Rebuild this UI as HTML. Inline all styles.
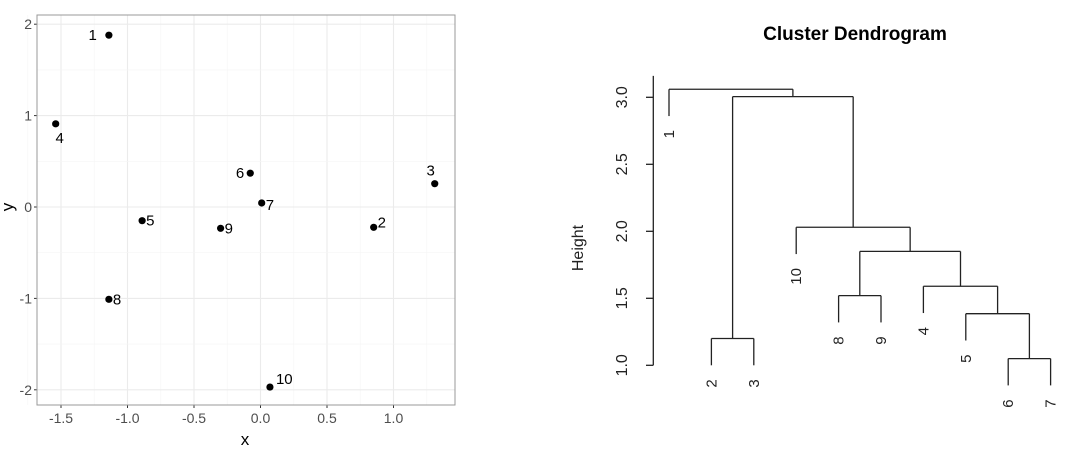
<!DOCTYPE html>
<html><head><meta charset="utf-8"><style>
body{margin:0;background:#fff;}
svg{display:block;font-family:"Liberation Sans",sans-serif;}
</style></head><body>
<svg id="s" width="1092" height="452" viewBox="0 0 1092 452">
<g id="left"></g>
<g id="right"></g>
</svg>
<script>
// scatter data
const ids = ["1","2","3","4","5","6","7","8","9","10"];
const xs = [-1.14, 0.851, 1.31, -1.54, -0.89, -0.077, 0.009, -1.14, -0.30, 0.071];
const ys = [1.88, -0.222, 0.255, 0.91, -0.15, 0.37, 0.044, -1.01, -0.233, -1.97];
const xTicks = [-1.5, -1.0, -0.5, 0.0, 0.5, 1.0];
const xTickLabels = ["-1.5","-1.0","-0.5","0.0","0.5","1.0"];
const yTicks = [-2, -1, 0, 1, 2];
const yTickLabels = ["-2","-1","0","1","2"];
// dendrogram data
const leafOrder = ["1","2","3","10","8","9","4","5","6","7"];
const mergeLeft = ["2","8","6","5","4","m2","10","m1","1"];
const mergeRight = ["3","9","7","m3","m4","m5","m6","m7","m8"];
const mergeHeight = [1.20, 1.52, 1.05, 1.385, 1.59, 1.85, 2.03, 3.005, 3.06];
const hTicks = [1.0, 1.5, 2.0, 2.5, 3.0];
const hTickLabels = ["1.0","1.5","2.0","2.5","3.0"];

const NS="http://www.w3.org/2000/svg";
function mk(p,tag,a,txt){const e=document.createElementNS(NS,tag);for(const k in a)e.setAttribute(k,a[k]);if(txt!==undefined)e.textContent=txt;p.appendChild(e);return e;}

// ---- scatter ----
const L=document.getElementById('left');
const sx=v=>260.5+v*133, sy=v=>207-v*91.4;
const px0=37,px1=455,py0=15,py1=405;
mk(L,'rect',{x:px0,y:py0,width:px1-px0,height:py1-py0,fill:'#fff'});
for(let i=0;i<xTicks.length;i++){
  const g=mk(L,'line',{x1:sx(xTicks[i]),x2:sx(xTicks[i]),y1:py0,y2:py1,stroke:'#ebebeb','stroke-width':1.1});
  
  const m=xTicks[i]+0.25;
  if(sx(m)<px1) mk(L,'line',{x1:sx(m),x2:sx(m),y1:py0,y2:py1,stroke:'#f5f5f5','stroke-width':0.6});
  if(i==0) mk(L,'line',{x1:sx(xTicks[0]-0.25),x2:sx(xTicks[0]-0.25),y1:py0,y2:py1,stroke:'#f5f5f5','stroke-width':0.6});
  const t=mk(L,'text',{x:sx(xTicks[i]),y:423,'text-anchor':'middle','font-size':14,fill:'#4d4d4d'},xTickLabels[i]);
  
  mk(L,'line',{x1:sx(xTicks[i]),x2:sx(xTicks[i]),y1:py1,y2:py1+3,stroke:'#333'});
}
for(let i=0;i<yTicks.length;i++){
  const g=mk(L,'line',{x1:px0,x2:px1,y1:sy(yTicks[i]),y2:sy(yTicks[i]),stroke:'#ebebeb','stroke-width':1.1});
  
  if(i<yTicks.length-1) mk(L,'line',{x1:px0,x2:px1,y1:sy(yTicks[i]+0.5),y2:sy(yTicks[i]+0.5),stroke:'#f5f5f5','stroke-width':0.6});
  const t=mk(L,'text',{x:32,y:sy(yTicks[i])+5,'text-anchor':'end','font-size':14,fill:'#4d4d4d'},yTickLabels[i]);
  
  mk(L,'line',{x1:px0-3,x2:px0,y1:sy(yTicks[i]),y2:sy(yTicks[i]),stroke:'#333'});
}
mk(L,'rect',{x:px0,y:py0,width:px1-px0,height:py1-py0,fill:'none',stroke:'#999','stroke-width':1});
const lo={"1":[-12,5,'end'],"2":[4,0,'start'],"3":[-4,-8,'middle'],"4":[4,19,'middle'],"5":[4,5,'start'],"6":[-6,5,'end'],"7":[4,7,'start'],"8":[4,5,'start'],"9":[4,5,'start'],"10":[6,-3,'start']};
for(let i=0;i<ids.length;i++){
  const cx=sx(xs[i]),cy=sy(ys[i]);
  const c=mk(L,'circle',{cx:cx,cy:cy,r:3.6,fill:'#000'});
  
  const o=lo[ids[i]];
  const t=mk(L,'text',{x:cx+o[0],y:cy+o[1],'text-anchor':o[2],'font-size':15,fill:'#000'},ids[i]);
  
}
const xt=mk(L,'text',{x:245,y:445,'text-anchor':'middle','font-size':17},'x');

const yt=mk(L,'text',{x:0,y:0,'text-anchor':'middle','font-size':17,transform:'translate(13,207) rotate(-90)'},'y');


// ---- dendrogram ----
const R=document.getElementById('right');
const hy=h=>365.3-(h-1)*134;
const lx=i=>669+42.4*i;
const hang=0.2;
const pos={},hgt={};
leafOrder.forEach((id,i)=>{pos[id]=lx(i);hgt[id]=null;});
for(let k=0;k<mergeLeft.length;k++){
  const a=mergeLeft[k],b=mergeRight[k],h=mergeHeight[k];
  const id='m'+(k+1);
  [a,b].forEach(c=>{
    const bottom=hgt[c]===null?h-hang:hgt[c];
    const ln=mk(R,'line',{x1:pos[c],x2:pos[c],y1:hy(h),y2:hy(bottom),stroke:'#222','stroke-width':1.3});
    
    if(hgt[c]===null){
      const t=mk(R,'text',{x:0,y:0,'text-anchor':'end','font-size':15,fill:'#222',transform:`translate(${pos[c]+5},${hy(bottom)+14}) rotate(-90)`},c);
      
    }
  });
  const hl=mk(R,'line',{x1:pos[a],x2:pos[b],y1:hy(h),y2:hy(h),stroke:'#222','stroke-width':1.3});
  
  pos[id]=(pos[a]+pos[b])/2;hgt[id]=h;
}
const ax=mk(R,'line',{x1:653.3,x2:653.3,y1:hy(3.16),y2:hy(1),stroke:'#222','stroke-width':1.3});

for(let i=0;i<hTicks.length;i++){
  mk(R,'line',{x1:646,x2:653.3,y1:hy(hTicks[i]),y2:hy(hTicks[i]),stroke:'#222','stroke-width':1.3});
  const t=mk(R,'text',{x:0,y:0,'text-anchor':'middle','font-size':16,fill:'#222',transform:`translate(627,${hy(hTicks[i])}) rotate(-90)`},hTickLabels[i]);
  
}
const ht=mk(R,'text',{x:0,y:0,'text-anchor':'middle','font-size':16,fill:'#222',transform:'translate(583,248) rotate(-90)'},'Height');

const tt=mk(R,'text',{x:855,y:40,'text-anchor':'middle','font-size':19,'font-weight':'bold',fill:'#000'},'Cluster Dendrogram');

</script>
</body></html>
